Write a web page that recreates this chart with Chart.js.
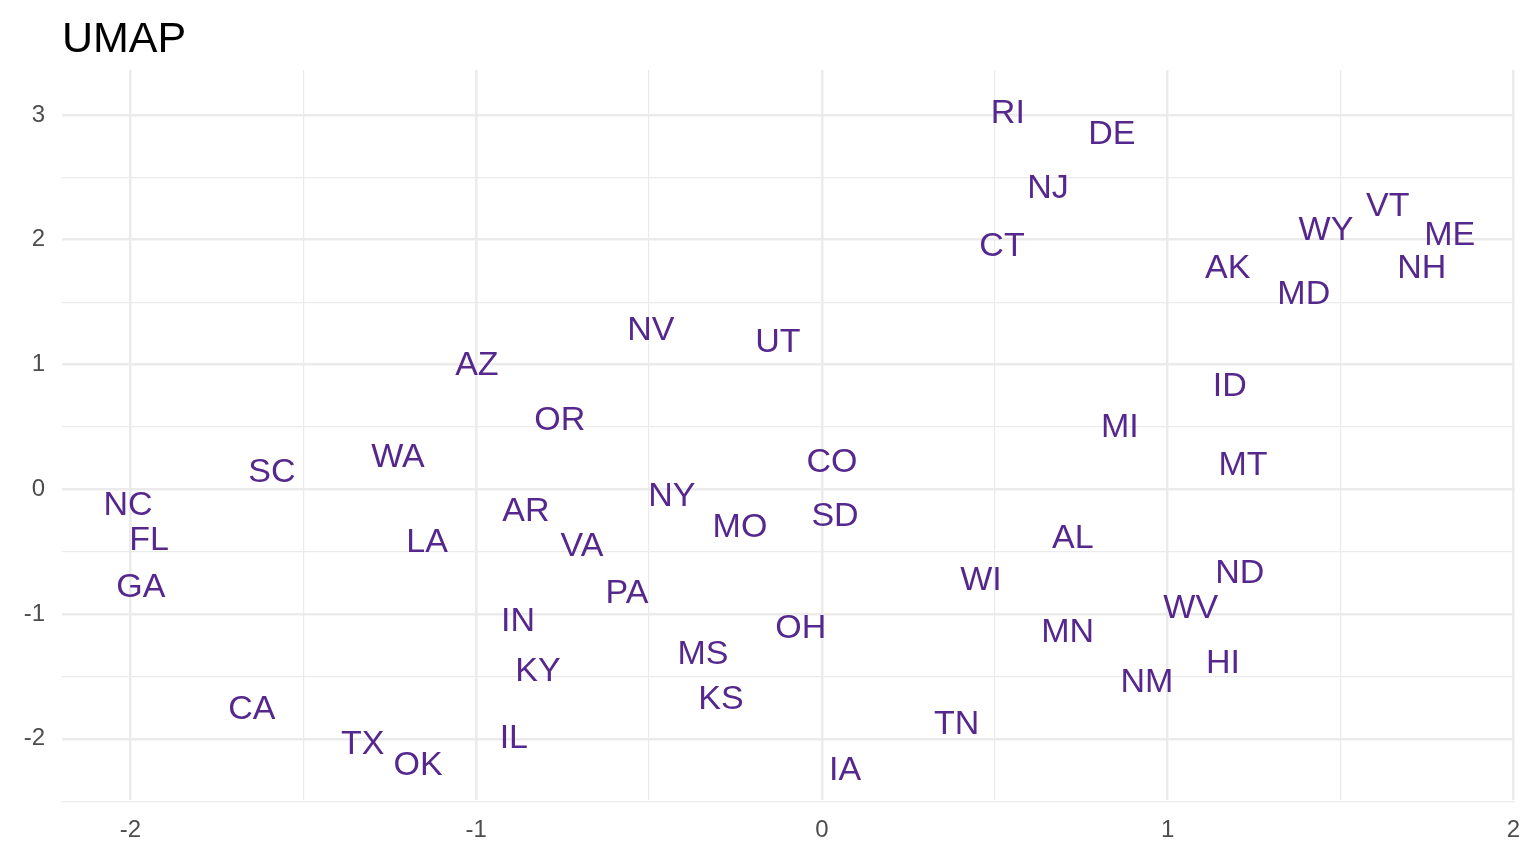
<!DOCTYPE html>
<html><head><meta charset="utf-8">
<script src="https://cdn.jsdelivr.net/npm/chart.js@4"></script>
<style>html,body{margin:0;padding:0;background:#fff}#wrap{width:1536px;height:864px}</style>
</head><body><div id="wrap"><canvas id="c" width="1536" height="864"></canvas></div>
<script>
const states = ["RI","DE","NJ","CT","VT","WY","ME","AK","NH","MD","NV","UT","AZ","ID","OR","MI","WA","CO","MT","SC","NY","NC","AR","SD","MO","AL","FL","LA","VA","ND","WI","GA","PA","WV","IN","OH","MN","MS","HI","KY","NM","KS","CA","TN","IL","TX","OK","IA"];
const xs = [0.538,0.839,0.654,0.521,1.637,1.458,1.816,1.174,1.735,1.394,-0.495,-0.127,-0.998,1.180,-0.758,0.862,-1.226,0.029,1.218,-1.591,-0.434,-2.007,-0.856,0.038,-0.237,0.726,-1.946,-1.142,-0.694,1.209,0.460,-1.970,-0.564,1.067,-0.879,-0.061,0.711,-0.344,1.160,-0.821,0.940,-0.292,-1.649,0.390,-0.891,-1.328,-1.168,0.067];
const ys = [3.02,2.85,2.42,1.95,2.27,2.08,2.04,1.78,1.78,1.57,1.28,1.18,1.00,0.83,0.56,0.50,0.26,0.22,0.20,0.14,-0.05,-0.12,-0.17,-0.21,-0.30,-0.39,-0.40,-0.42,-0.45,-0.67,-0.72,-0.78,-0.83,-0.95,-1.05,-1.11,-1.14,-1.32,-1.39,-1.45,-1.54,-1.68,-1.76,-1.88,-1.99,-2.04,-2.21,-2.25];
const xTicks = [-2,-1.5,-1,-0.5,0,0.5,1,1.5,2];
const yTicks = [-2.5,-2,-1.5,-1,-0.5,0,0.5,1,1.5,2,2.5,3];
const chartTitle = "UMAP";

const pts = states.map((s,i)=>({x:xs[i],y:ys[i]}));
const labelPlugin = {
  id:'labels',
  afterDatasetsDraw(chart){
    const ctx=chart.ctx, sx=chart.scales.x, sy=chart.scales.y;
    ctx.save();
    ctx.fillStyle='#56288e';
    ctx.font='34px "Liberation Sans", Arial, sans-serif';
    ctx.textAlign='center'; ctx.textBaseline='middle';
    states.forEach((s,i)=>ctx.fillText(s, sx.getPixelForValue(xs[i]), sy.getPixelForValue(ys[i])+1));
    ctx.fillStyle='#000';
    ctx.font='43px "Liberation Sans", Arial, sans-serif';
    ctx.textAlign='left'; ctx.textBaseline='alphabetic';
    ctx.fillText(chartTitle, 62, 52);
    ctx.restore();
  }
};
const isInt = v => Math.abs(v-Math.round(v))<1e-6;
const gridW = c => isInt(c.tick.value) ? 2.5 : 1.2;
const tickCb = v => isInt(v) ? String(Math.round(v)) : '';
new Chart(document.getElementById('c'), {
  type:'scatter',
  data:{datasets:[{data:pts,pointRadius:0,pointHoverRadius:0}]},
  options:{
    responsive:false, animation:false, events:[],
    layout:{padding:{top:70,right:21,left:0,bottom:0}},
    plugins:{legend:{display:false},tooltip:{enabled:false}},
    scales:{
      x:{type:'linear',min:-2.198,max:2.004,
        afterBuildTicks(s){s.ticks=xTicks.map(v=>({value:v}));},
        afterFit(s){s.height=64;},
        border:{display:false},
        grid:{color:'#ebebeb',lineWidth:gridW,drawTicks:false},
        ticks:{callback:tickCb,color:'#4d4d4d',font:{size:24,family:'"Liberation Sans", Arial'},padding:16,autoSkip:false,maxRotation:0}},
      y:{type:'linear',min:-2.49,max:3.36,
        afterBuildTicks(s){s.ticks=yTicks.map(v=>({value:v}));},
        afterFit(s){s.width=62;},
        border:{display:false},
        grid:{color:'#ebebeb',lineWidth:gridW,drawTicks:false},
        ticks:{callback:tickCb,color:'#4d4d4d',font:{size:24,family:'"Liberation Sans", Arial'},padding:17,autoSkip:false}}
    }
  },
  plugins:[labelPlugin]
});
</script></body></html>
